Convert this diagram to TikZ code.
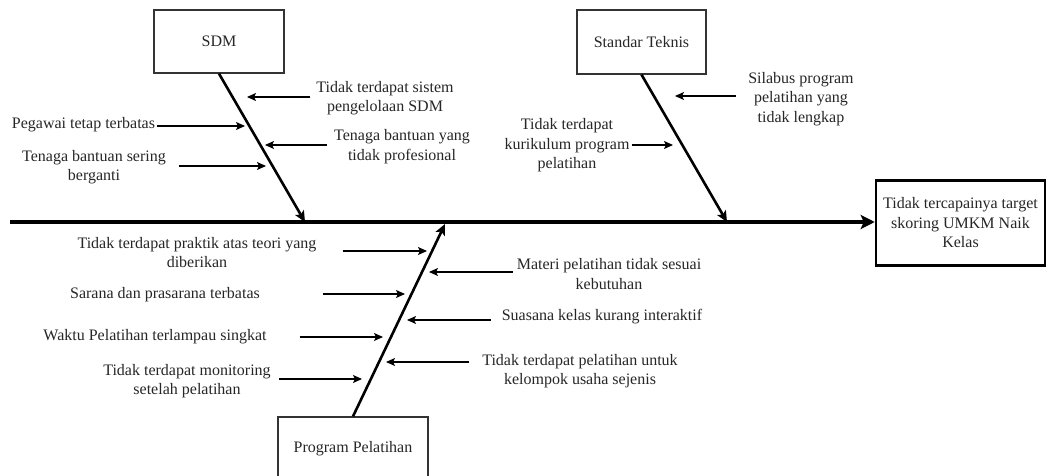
\documentclass[tikz,border=0pt]{standalone}
\usepackage{fontspec}
\setmainfont{Liberation Serif}
\usetikzlibrary{arrows.meta,calc}
\begin{document}
\begin{tikzpicture}[x=1pt,y=-1pt,
  txt/.style={font=\fontsize{16}{19.5}\selectfont, text=black!85, align=center, inner sep=0pt},
  catbox/.style={draw=black!80, line width=1.3pt, minimum width=130pt, minimum height=63pt, inner sep=0pt, font=\fontsize{16}{19.5}\selectfont, text=black!85},
  effbox/.style={draw=black, line width=2.5pt, minimum width=169pt, minimum height=85pt, inner sep=0pt, align=center, font=\fontsize{16}{19.5}\selectfont, text=black!85},
  spine/.style={line width=3.5pt, -{Stealth[length=14pt,width=14pt,inset=3pt]}},
  bone/.style={line width=2.6pt, -{Stealth[length=11pt,width=10pt,inset=2.5pt]}},
  cause/.style={line width=1.1pt, -{Stealth[length=9pt,width=8pt,inset=2pt]}}]
\clip (0,0) rectangle (1053,476);
\useasboundingbox (0,0) rectangle (1053,476);

% category boxes
\node[catbox] (sdm) at (219,41.5) {SDM};
\node[catbox, minimum width=129pt, minimum height=64pt] (std) at (641.5,42) {Standar Teknis};
\node[catbox, minimum width=150pt, minimum height=64pt] (prog) at (353,449) {Program Pelatihan};
\node[effbox] (eff) at (960.5,223) {Tidak tercapainya target\\skoring UMKM Naik\\Kelas};

% spine
\coordinate (sp0) at (10,222);
\draw[spine] (sp0) -- (sp0 -| eff.west);

% bones
\coordinate (j1) at (305,222);
\coordinate (j2) at (727,222);
\coordinate (j3) at (445,224);
\draw[bone] (sdm.south) -- (j1);
\draw[bone] (std.south) -- (j2);
\draw[bone] (prog.north) -- (j3);

% tips on bones
\coordinate (t1) at (247,97);
\coordinate (t2) at (245,126);
\coordinate (t3) at (265,145);
\coordinate (t4) at (266,166);
\coordinate (t5) at (675,96);
\coordinate (t6) at (673,145);
\coordinate (t7) at (427,251);
\coordinate (t8) at (405,294);
\coordinate (t9) at (383,337);
\coordinate (t10) at (362,379);
\coordinate (t11) at (429,272);
\coordinate (t12) at (407,320);
\coordinate (t13) at (386,362);

% cause texts
\node[txt] (c1) at (385,98) {Tidak terdapat sistem\\pengelolaan SDM};
\node[txt] (c2) at (83.5,125) {Pegawai tetap terbatas};
\node[txt] (c3) at (402,146.5) {Tenaga bantuan yang\\tidak profesional};
\node[txt] (c4) at (94,167) {Tenaga bantuan sering\\berganti};
\node[txt] (c5) at (801,99) {Silabus program\\pelatihan yang\\tidak lengkap};
\node[txt] (c6) at (567,145.5) {Tidak terdapat\\kurikulum program\\pelatihan};
\node[txt] (c7) at (197,252.5) {Tidak terdapat praktik atas teori yang\\diberikan};
\node[txt] (c8) at (165,295) {Sarana dan prasarana terbatas};
\node[txt] (c9) at (155,337) {Waktu Pelatihan terlampau singkat};
\node[txt] (c10) at (187,381) {Tidak terdapat monitoring\\setelah pelatihan};
\node[txt] (c11) at (609,274) {Materi pelatihan tidak sesuai\\kebutuhan};
\node[txt] (c12) at (602,317) {Suasana kelas kurang interaktif};
\node[txt] (c13) at (580,371) {Tidak terdapat pelatihan untuk\\kelompok usaha sejenis};

% cause arrows
\draw[cause] ($(c1.west |- t1)+(-6,0)$) -- (t1);
\draw[cause] ($(c2.east |- t2)+(2,0)$) -- (t2);
\draw[cause] ($(c3.west |- t3)+(-7,0)$) -- (t3);
\draw[cause] ($(c4.east |- t4)+(13,0)$) -- (t4);
\draw[cause] ($(c5.west |- t5)+(-12,0)$) -- (t5);
\draw[cause] ($(c6.east |- t6)+(2,0)$) -- (t6);
\draw[cause] ($(c7.east |- t7)+(26,0)$) -- (t7);
\draw[cause] ($(c8.east |- t8)+(63,0)$) -- (t8);
\draw[cause] ($(c9.east |- t9)+(33,0)$) -- (t9);
\draw[cause] ($(c10.east |- t10)+(8,0)$) -- (t10);
\draw[cause] ($(c11.west |- t11)+(-4,0)$) -- (t11);
\draw[cause] ($(c12.west |- t12)+(-11,0)$) -- (t12);
\draw[cause] ($(c13.west |- t13)+(-13,0)$) -- (t13);
\end{tikzpicture}
\end{document}
